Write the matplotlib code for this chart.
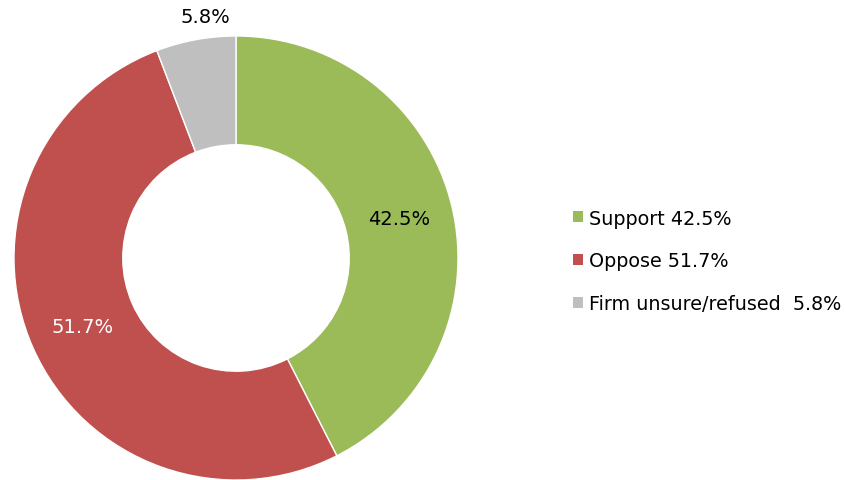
import matplotlib.pyplot as plt
from matplotlib.patches import Patch

# Data
labels = ["Support", "Oppose", "Firm unsure/refused"]
values = [42.5, 51.7, 5.8]
legend_text = ["Support 42.5%", "Oppose 51.7%", "Firm unsure/refused  5.8%"]
colors = ["#9BBB59", "#C0504D", "#BFBFBF"]
label_colors = ["black", "white", "black"]

plt.rcParams['font.family'] = ['DejaVu Sans']

fig = plt.figure(figsize=(8.46, 4.81), dpi=100)
ax = fig.add_axes([14 / 846, 0 / 481, 444 / 846, 444 / 481])

wedges, texts, autotexts = ax.pie(
    values, colors=colors, startangle=90, counterclock=False,
    radius=1.0, autopct='%.1f%%', pctdistance=0.755,
    wedgeprops=dict(width=0.49, edgecolor='white', linewidth=1.0),
    textprops=dict(fontsize=14))

for t, c in zip(autotexts, label_colors):
    t.set_color(c)

# small slice label sits just above the ring, outside
autotexts[2].set_position((-0.14, 1.09))

ax.set_xlim(-1, 1)
ax.set_ylim(-1, 1)
ax.set_aspect('equal')
ax.axis('off')

handles = [Patch(facecolor=c, edgecolor='none') for c in colors]
fig.legend(handles, legend_text, loc='center left', bbox_to_anchor=(573 / 846, 1 - 262 / 481),
           frameon=False, fontsize=13.8, handlelength=0.54, handleheight=0.54,
           handletextpad=0.3, labelspacing=1.25, borderaxespad=0, borderpad=0)

fig.savefig("out.png", dpi=100)
